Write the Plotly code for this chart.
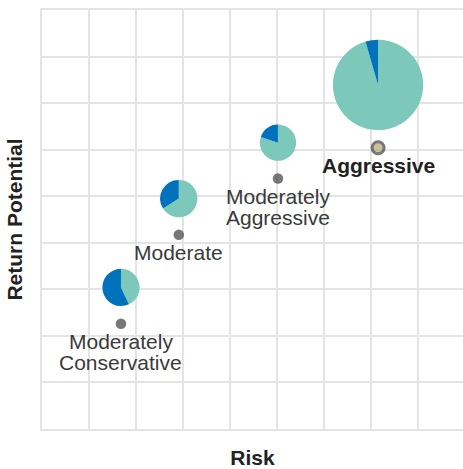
import plotly.graph_objects as go

# ---- data ----
portfolios = ["Moderately Conservative", "Moderate", "Moderately Aggressive", "Aggressive"]
label_lines = [["Moderately", "Conservative"], ["Moderate"], ["Moderately", "Aggressive"], ["Aggressive"]]
risk = [1.68, 2.91, 5.02, 7.15]
return_potential = [2.26, 4.17, 5.38, 6.04]
teal_share = [43, 66, 80, 95.5]    # teal slice (%)
blue_share = [57, 34, 20, 4.5]     # dark blue slice (%)
pie_size = [0.40, 0.40, 0.39, 0.97]  # pie radius, in axis units
highlight = [False, False, False, True]

# ---- styling ----
X_MAX = 8.957
Y_MAX = 9.0
BLUE = "#0072bc"
TEAL = "#7cc9bb"
DOT = "#3e3f44"
GOLD = "#b8a967"
GRID = "#e4e4e4"
FONT = "Liberation Sans, Arial, Helvetica, sans-serif"
PIE_GAP = 0.38  # gap between dot and bottom of pie, axis units

fig = go.Figure()

# dots
fig.add_trace(go.Scatter(
    x=risk, y=return_potential, mode="markers",
    marker=dict(
        size=[12 if h else 10.5 for h in highlight],
        color=[GOLD if h else DOT for h in highlight],
        line=dict(color=DOT, width=[3 if h else 0 for h in highlight]),
    ),
    hoverinfo="text", text=portfolios, showlegend=False,
))

# pies, placed via data -> paper mapping
for name, x, y, t, b, r in zip(portfolios, risk, return_potential, teal_share, blue_share, pie_size):
    cy = y + PIE_GAP + r
    fig.add_trace(go.Pie(
        labels=["Teal", "Blue"], values=[t, b], sort=False,
        direction="clockwise", rotation=0,
        marker=dict(colors=[TEAL, BLUE], line=dict(width=0)),
        textinfo="none", hoverinfo="label+percent", name=name,
        domain=dict(x=[(x - r) / X_MAX, (x + r) / X_MAX],
                    y=[(cy - r) / Y_MAX, (cy + r) / Y_MAX]),
        showlegend=False,
    ))

# labels
annotations = []
for lines, x, y, h in zip(label_lines, risk, return_potential, highlight):
    for i, line in enumerate(lines):
        annotations.append(dict(
            x=x, y=y, xref="x", yref="y", text=f"<b>{line}</b>" if h else line,
            showarrow=False, xanchor="center", yanchor="top",
            yshift=-4 - 21 * i,
            font=dict(family=FONT, size=21, color="#222222" if h else "#3a3a3a"),
        ))

fig.update_layout(
    width=463, height=469,
    margin=dict(l=42, r=0, t=10, b=36),
    paper_bgcolor="white", plot_bgcolor="white",
    font=dict(family=FONT),
    annotations=annotations,
    xaxis=dict(range=[0, X_MAX], dtick=1, tick0=0, showticklabels=False,
               showgrid=True, gridcolor=GRID, gridwidth=1.5, zeroline=False,
               showline=True, linecolor=GRID, linewidth=1.5, mirror=True, ticks="",
               title=dict(text="<b>Risk</b>", standoff=25,
                          font=dict(family=FONT, size=21, color="#222222"))),
    yaxis=dict(range=[0, Y_MAX], dtick=1, tick0=0, showticklabels=False,
               showgrid=True, gridcolor=GRID, gridwidth=1.5, zeroline=False,
               showline=True, linecolor=GRID, linewidth=1.5, mirror=False, ticks="",
               title=dict(text="<b>Return Potential</b>", standoff=12,
                          font=dict(family=FONT, size=21, color="#222222"))),
)

# remove the browser's default 8px body margin so the figure fills the window exactly
fig.write_html(
    "out.html",
    config={"displayModeBar": False},
    post_script="document.body.style.margin='0';document.body.style.overflow='hidden';",
)
